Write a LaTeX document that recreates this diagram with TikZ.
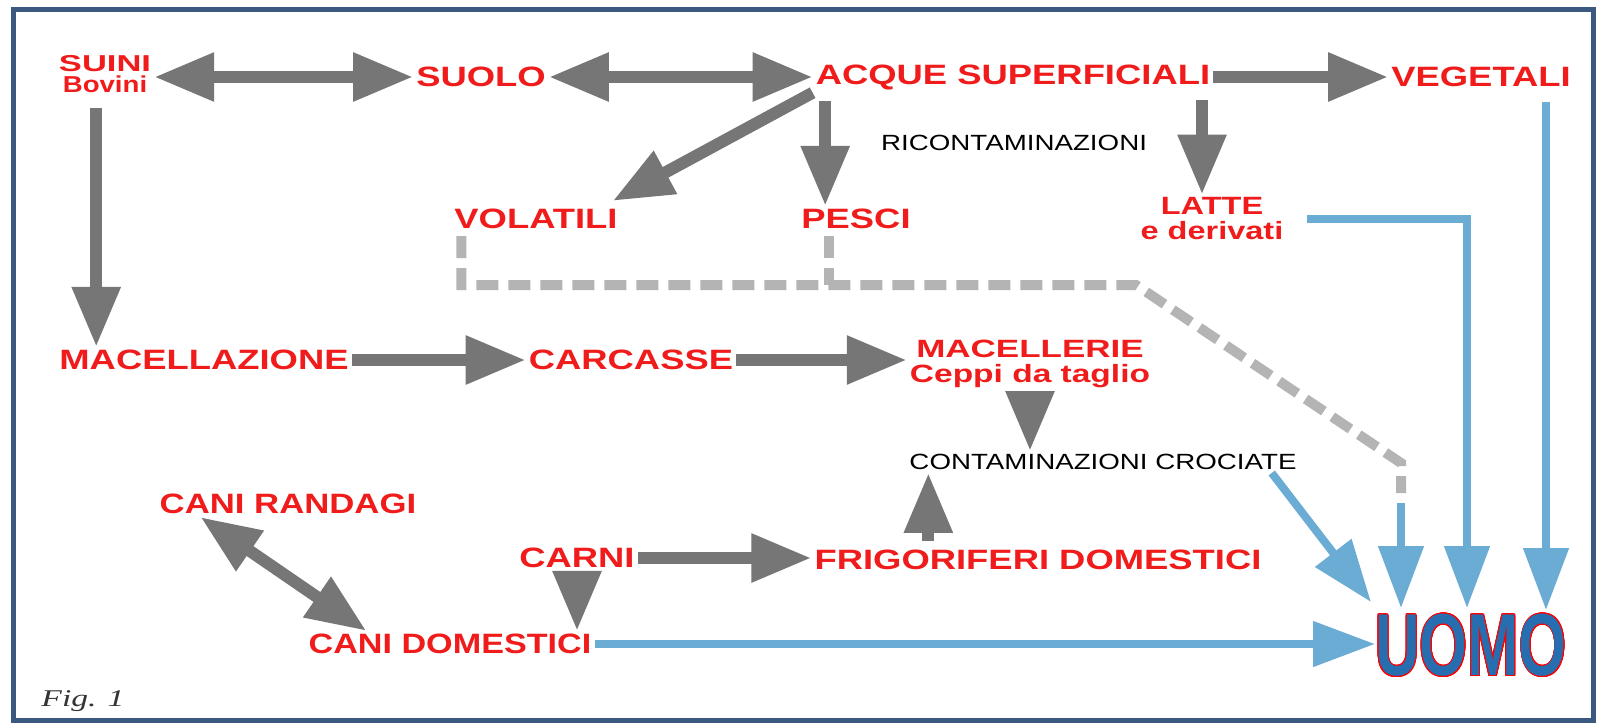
\documentclass[tikz,border=0pt]{standalone}
\usepackage{fontspec}
\setmainfont{Liberation Sans}
\newfontfamily\serifit{Liberation Serif}
\usepackage{contour}
\usetikzlibrary{arrows.meta,calc}
\definecolor{lblred}{RGB}{240,28,28}
\definecolor{arrgray}{RGB}{118,118,118}
\definecolor{dashgray}{RGB}{180,180,180}
\definecolor{arrblue}{RGB}{107,172,212}
\definecolor{uomoblue}{RGB}{38,110,175}
\definecolor{framec}{RGB}{58,88,128}
\newcommand\xs[2][1.3]{\scalebox{#1}[1]{#2}}
\contourlength{1.3pt}
\begin{document}
\begin{tikzpicture}[x=1pt,y=-1pt,
  lbl/.style={text=lblred, font=\bfseries\fontsize{28}{28}\selectfont, inner sep=3pt, align=center},
  lbltwo/.style={text=lblred, font=\bfseries\fontsize{25}{25}\selectfont, inner sep=3pt, align=center},
  note/.style={text=black, font=\fontsize{22}{22}\selectfont, inner sep=3pt},
  garrow/.style={draw=arrgray, line width=12pt, -{Triangle[length=60pt,width=46pt]}},
  gboth/.style={draw=arrgray, line width=12pt, {Triangle[length=60pt,width=46pt]}-{Triangle[length=60pt,width=46pt]}},
  barrow/.style={draw=arrblue, line width=8pt, -{Triangle[length=62pt,width=44pt]}},
  dline/.style={draw=dashgray, line width=10pt, dash pattern=on 22pt off 10pt},
]
\fill[white] (0,0) rectangle (1598,723);
\path[use as bounding box] (0,0) rectangle (1598,723);
\draw[framec, line width=5pt] (13,9) rectangle (1593,720);

% nodes
\node[lbltwo, font=\bfseries\fontsize{23}{21}\selectfont] (suini) at (105,74) {\xs[1.5]{SUINI}\\\xs[1.2]{Bovini}};
\node[lbl] (suolo) at (481,77) {\xs{SUOLO}};
\node[lbl] (acque) at (1013,77) {\xs{ACQUE SUPERFICIALI}};
\node[lbl] (veget) at (1481,77) {\xs{VEGETALI}};
\node[note] (ricont) at (1014,143) {\xs[1.26]{RICONTAMINAZIONI}};
\node[lbl] (volat) at (536,219) {\xs{VOLATILI}};
\node[lbl] (pesci) at (856,219) {\xs{PESCI}};
\node[lbltwo] (latte) at (1212,219) {\xs{LATTE}\\\xs{e derivati}};
\node[lbl] (macell) at (204,360) {\xs{MACELLAZIONE}};
\node[lbl] (carc) at (631,360) {\xs{CARCASSE}};
\node[lbltwo] (maceller) at (1030,364) {\xs[1.4]{MACELLERIE}\\\xs[1.34]{Ceppi da taglio}};
\node[note] (contam) at (1103,462) {\xs[1.26]{CONTAMINAZIONI CROCIATE}};
\node[lbl] (caniR) at (288,504) {\xs[1.24]{CANI RANDAGI}};
\node[lbl] (carni) at (577,558) {\xs{CARNI}};
\node[lbl] (frigo) at (1038,560) {\xs{FRIGORIFERI DOMESTICI}};
\node[lbl] (caniD) at (450,644) {\xs[1.22]{CANI DOMESTICI}};
\node[inner sep=0pt, font=\bfseries\fontsize{88}{88}\selectfont] (uomo) at (1471,646) {\scalebox{0.7}[1]{\contour{red}{\textcolor{uomoblue}{UOMO}}}};
\node[text=black!80, font=\serifit\itshape\fontsize{24}{24}\selectfont] (fig) at (83,701) {\xs[1.4]{Fig. 1}};

% helper coordinates
\coordinate (pA) at ($(pesci.north west)+(27,0)$);
\coordinate (lA) at ($(latte.north)+(-10,0)$);
\coordinate (uL) at ($(uomo.north)+(-4,-6)$);
\coordinate (uV) at ($(uomo.north)+(75,-4)$);
\coordinate (uD) at ($(uomo.north)+(-70,-6)$);
\coordinate (uC) at ($(uomo.north west)+(-4,-12)$);
\coordinate (dh) at (1136,285);
\coordinate (dk) at ($(uD)+(0,-145)$);
\coordinate (dv) at ($(volat.south west)+(10,4)$);
\coordinate (pD) at ($(pesci.south west)+(31,4)$);
\coordinate (fA) at ($(frigo.north west)+(117,0)$);
\coordinate (sA) at ($(macell.north west)+(40,0)$);

% gray connectors
\draw[gboth] (suini.east |- suolo.west) -- (suolo.west);
\draw[gboth] (suolo.east) -- (acque.west);
\draw[garrow] (acque.east) -- (veget.west);
\draw[garrow] (acque.south west) -- ($(volat.north east)+(-8,-5)$);
\draw[garrow, shorten <=8pt] (pA |- acque.south) -- (pA);
\draw[garrow, shorten <=7pt] (lA |- acque.south) -- (lA);
\draw[garrow, shorten <=12pt] (sA |- suini.south) -- (sA);
\draw[garrow] (macell.east) -- (carc.west);
\draw[garrow] (carc.east) -- (carc.east -| maceller.west);
\draw[garrow] (maceller.south) -- (maceller.south |- contam.north);
\draw[garrow, shorten <=6pt] (fA) -- (fA |- contam.south);
\draw[garrow] (carni.east) -- (frigo.west |- carni.east);
\draw[garrow] (carni.south) -- (carni.south |- caniD.north);
\draw[gboth] ($(caniR.south west)+(44,0)$) -- ($(caniD.north west)+(61,0)$);

% dashed
\draw[dline] (dv) |- (dh) -- (dk) -- ($(dk)+(0,30)$);
\draw[dline] (pD) -- (pD |- dh);

% blue connectors
\draw[barrow, shorten <=20pt] (latte.east) -| (uL);
\draw[barrow, shorten <=12pt] (uV |- veget.south) -- (uV);
\draw[barrow] ($(dk)+(0,40)$) -- (uD);
\draw[barrow] ($(contam.south east)+(-28,0)$) -- (uC);
\draw[barrow] (caniD.east) -- (caniD.east -| uomo.west);
\end{tikzpicture}
\end{document}
